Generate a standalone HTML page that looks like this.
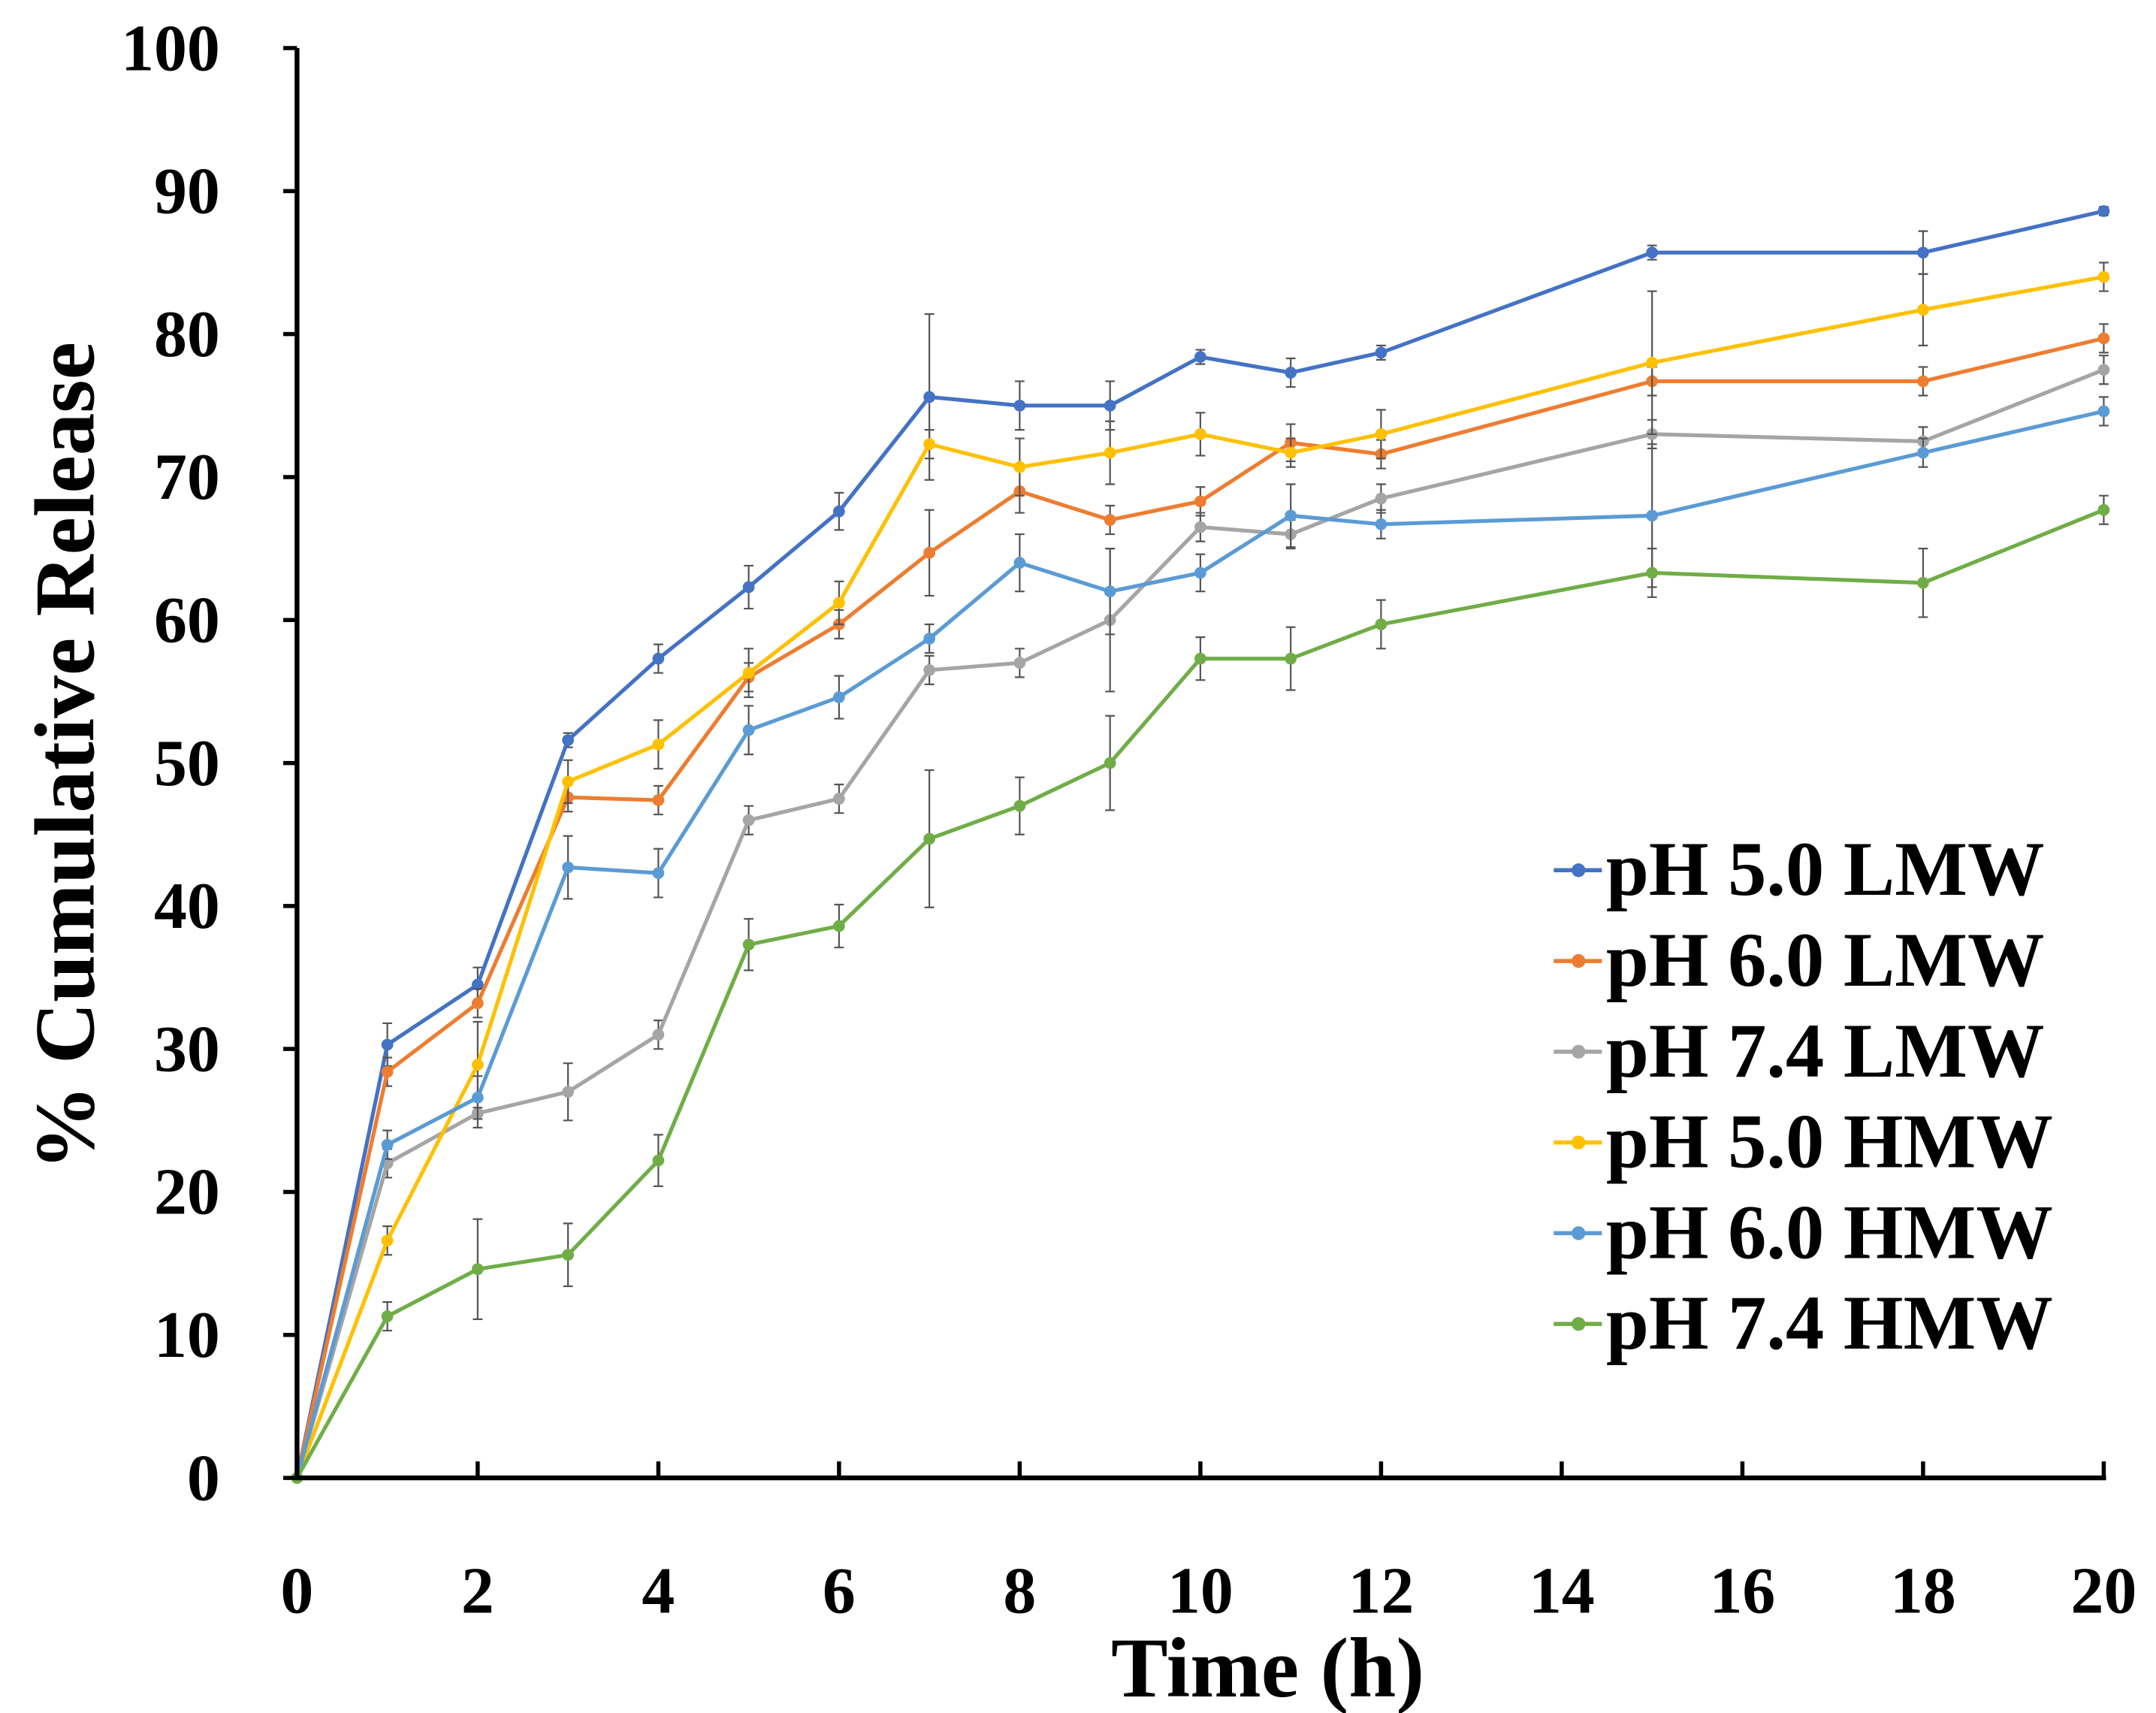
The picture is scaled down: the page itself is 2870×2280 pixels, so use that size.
<!DOCTYPE html>
<html><head><meta charset="utf-8"><style>
html,body{margin:0;padding:0;background:#fff;width:2870px;height:2280px;overflow:hidden}
svg{display:block}
text{font-family:"Liberation Serif",serif;font-weight:bold;fill:#000}
</style></head><body>
<svg id="chart" width="2870" height="2280" viewBox="0 0 1568 1246" preserveAspectRatio="none" xmlns="http://www.w3.org/2000/svg">
<g id="grid"></g><g id="series"></g><g id="axes"></g><g id="legend"></g>
</svg>
<script>
const times=[0,1,2,3,4,5,6,7,8,9,10,11,12,15,18,20];
const names=["pH 5.0 LMW","pH 6.0 LMW","pH 7.4 LMW","pH 5.0 HMW","pH 6.0 HMW","pH 7.4 HMW"];
const colors=["#4472C4","#ED7D31","#A5A5A5","#FFC000","#5B9BD5","#70AD47"];
const s1=[0,30.3,34.5,51.6,57.3,62.3,67.6,75.6,75,75,78.4,77.3,78.7,85.7,85.7,88.6];
const s2=[0,28.4,33.2,47.6,47.4,56,59.7,64.7,69,67,68.3,72.4,71.6,76.7,76.7,79.7];
const s3=[0,22,25.5,27,31,46,47.5,56.5,57,60,66.5,66,68.5,73,72.5,77.5];
const s4=[0,16.6,28.9,48.7,51.3,56.3,61.2,72.3,70.7,71.7,73,71.7,73,78,81.7,84];
const s5=[0,23.3,26.6,42.7,42.3,52.3,54.6,58.7,64,62,63.3,67.3,66.7,67.3,71.7,74.6];
const s6=[0,11.3,14.6,15.6,22.2,37.3,38.6,44.7,47,50,57.3,57.3,59.7,63.3,62.6,67.7];
const e1=[0,1.5,1.2,0.5,1,1.5,1.3,5.8,1.7,1.7,0.5,1,0.5,0.5,1.5,0.3];
const e2=[0,1,1,1,1,1,1,3,1.5,1,1,1.3,1,1,1,1];
const e3=[0,1,1,2,1,1,1,1,1,5,1,1,1,1,1,1];
const e4=[0,1,3,1.5,1.7,1.7,1.5,1,2,2.2,1.5,1,1.7,5,2.5,1];
const e5=[0,1,1.5,2.2,1.7,1.7,1.5,1,2,3,1.3,2.2,1,5,1,1];
const e6=[0,1,3.5,2.2,1.8,1.8,1.5,4.8,2,3.3,1.5,2.2,1.7,1.7,2.4,1];
const seriesVals=[s1,s2,s3,s4,s5,s6];
const seriesErr=[e1,e2,e3,e4,e5,e6];
const yTicks=[0,10,20,30,40,50,60,70,80,90,100];
const xTicks=[0,2,4,6,8,10,12,14,16,18,20];
const NS="http://www.w3.org/2000/svg";
const X0=216,X1=1530,Y0=1075,Y1=35;
const sx=v=>X0+(X1-X0)*v/20, sy=v=>Y0-(Y0-Y1)*v/100;
function mk(tag,attrs,parent){const e=document.createElementNS(NS,tag);for(const k in attrs)e.setAttribute(k,attrs[k]);parent.appendChild(e);return e;}
const axes=document.getElementById('axes'),ser=document.getElementById('series'),leg=document.getElementById('legend');
seriesVals.forEach((vals,i)=>{
  const g=mk('g',{},ser);
  
  
  seriesErr[i].forEach((e,j)=>{
    if(e<=0)return;
    const x=sx(times[j]),y=sy(vals[j]),yt=sy(vals[j]+e),yb=sy(vals[j]-e);
    const eb=mk('path',{d:`M${x},${yb}V${yt}M${x-3.5},${yt}H${x+3.5}M${x-3.5},${yb}H${x+3.5}`,stroke:'#555','stroke-width':1.2,fill:'none'},g);
    
    
  });
  const pl=mk('polyline',{points:vals.map((v,j)=>sx(times[j])+','+sy(v)).join(' '),fill:'none',stroke:colors[i],'stroke-width':2.8,'stroke-linejoin':'round'},g);
  
  
  vals.forEach((v,j)=>{
    const c=mk('circle',{cx:sx(times[j]),cy:sy(v),r:4.3,fill:colors[i]},g);
    
    
  });
});
const ya=mk('line',{x1:X0,y1:Y1,x2:X0,y2:Y0,stroke:'#000','stroke-width':3.5},axes);


const xa=mk('line',{x1:X0-1.7,y1:Y0,x2:X1+1.7,y2:Y0,stroke:'#000','stroke-width':3.5},axes);


yTicks.forEach(v=>{
  mk('line',{x1:X0-10,y1:sy(v),x2:X0,y2:sy(v),stroke:'#000','stroke-width':3},axes);
  const t=mk('text',{x:160,y:sy(v)+16,'text-anchor':'end','font-size':48},axes);
  t.textContent=v;
  
  
});
xTicks.forEach(v=>{
  if(v>0)mk('line',{x1:sx(v),y1:Y0,x2:sx(v),y2:Y0-12,stroke:'#000','stroke-width':3},axes);
  const t=mk('text',{x:sx(v),y:1173,'text-anchor':'middle','font-size':48},axes);
  t.textContent=v;
  
  
});
const xt=mk('text',{x:922,y:1234,'text-anchor':'middle','font-size':62},axes);
xt.textContent='Time (h)';


const yt=mk('text',{x:0,y:0,'text-anchor':'middle','font-size':62,transform:'translate(68,550) rotate(-90)'},axes);
yt.textContent='% Cumulative Release';


names.forEach((n,i)=>{
  const y=633+i*66;
  const g=mk('g',{},leg);
  
  
  mk('line',{x1:1130,y1:y,x2:1165,y2:y,stroke:colors[i],'stroke-width':3},g);
  mk('circle',{cx:1148,cy:y,r:5,fill:colors[i]},g);
  const t=mk('text',{x:1168,y:y+18,'font-size':56},g);
  t.textContent=n;
});
</script>
</body></html>
